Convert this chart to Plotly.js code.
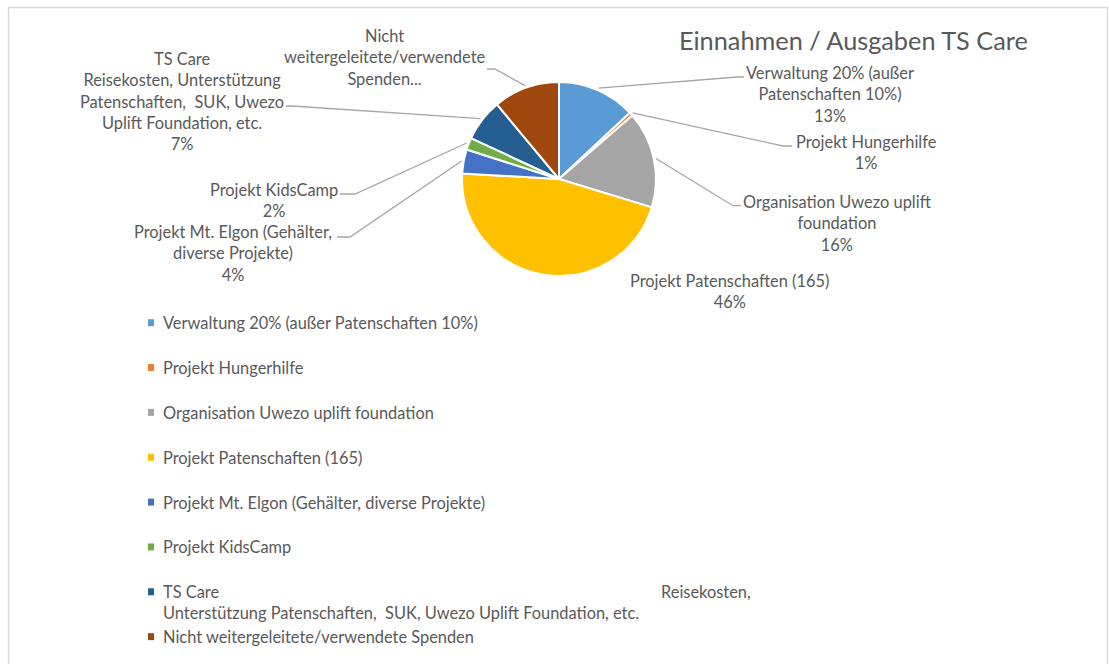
<!DOCTYPE html>
<html>
<head>
<meta charset="utf-8">
<script src="https://cdn.plot.ly/plotly-3.0.1.min.js"></script>
<style>html,body{margin:0;padding:0;background:#fff;}#chart{width:1109px;height:664px;}</style>
</head>
<body>
<div id="chart"></div>
<script>
// ---------------- data ----------------
const categories = [
  "Verwaltung 20% (außer Patenschaften 10%)",
  "Projekt Hungerhilfe",
  "Organisation Uwezo uplift foundation",
  "Projekt Patenschaften (165)",
  "Projekt Mt. Elgon (Gehälter, diverse Projekte)",
  "Projekt KidsCamp",
  "TS Care Reisekosten, Unterstützung Patenschaften,  SUK, Uwezo Uplift Foundation, etc.",
  "Nicht weitergeleitete/verwendete Spenden"
];
const values = [13, 0.6, 16, 46, 4, 2, 7, 11];
const colors = ["#5B9BD5", "#ED7D31", "#A5A5A5", "#FFC000", "#4472C4", "#70AD47", "#255E91", "#9E480E"];
// data-label texts (wrapped as in the chart)
const dataLabelLines = [
  ["Verwaltung 20% (außer", "Patenschaften 10%)"],
  ["Projekt Hungerhilfe"],
  ["Organisation Uwezo uplift", "foundation"],
  ["Projekt Patenschaften (165)"],
  ["Projekt Mt. Elgon (Gehälter,", "diverse Projekte)"],
  ["Projekt KidsCamp"],
  ["TS Care", "Reisekosten, Unterstützung", "Patenschaften,\u00a0 SUK, Uwezo", "Uplift Foundation, etc."],
  ["Nicht", "weitergeleitete/verwendete", "Spenden..."]
];
const showPercent = [true, true, true, true, true, true, true, false];
const legendLines = [
  ["Verwaltung 20% (außer Patenschaften 10%)"],
  ["Projekt Hungerhilfe"],
  ["Organisation Uwezo uplift foundation"],
  ["Projekt Patenschaften (165)"],
  ["Projekt Mt. Elgon (Gehälter, diverse Projekte)"],
  ["Projekt KidsCamp"],
  ["TS Care", "Unterstützung Patenschaften,\u00a0 SUK, Uwezo Uplift Foundation, etc."],
  ["Nicht weitergeleitete/verwendete Spenden"]
];
const legendExtraText = {6: "Reisekosten,"};
const chartTitle = "Einnahmen / Ausgaben TS Care";

// ---------------- layout helpers (pixels) ----------------
const W = 1109, H = 664;
const px = x => x / W;
const py = y => 1 - y / H;
const CX = 559, CY = 179, R = 97;
const FONT = "Lato, 'Open Sans', 'Liberation Sans', sans-serif";
const TXT = "#595959";
const LABEL_SIZE = 16.4;
// label block centres [x, yCentre] in px
const labelPos = [
  [830, 93.7], [866, 151.7], [837.5, 223.3], [729.5, 290.5],
  [233.3, 253.5], [273.7, 199.5], [182, 100.5], [384, 57]
];
// leader elbows and ends in px (null = no leader)
const leaderPts = [
  [[737, 77], [744, 77]],
  [[783, 146], [792, 146]],
  [[733, 205.7], [741, 205.7]],
  null,
  [[350, 237], [337, 237]],
  [[355, 194], [340, 194]],
  [[292, 106], [286, 106]],
  [[495, 69], [487, 69]]
];
const legendX = 161, legendY0 = 322.7, legendDY = 44.85, legendLineH = 21;

// ---------------- build ----------------
const total = values.reduce((a, b) => a + b, 0);
const annotations = [];
const shapes = [];

// chart frame
shapes.push({type: "rect", xref: "paper", yref: "paper",
  x0: px(8.5), x1: px(1107.5), y0: py(7.5), y1: py(680),
  line: {color: "#D9D9D9", width: 1.5}, fillcolor: "rgba(0,0,0,0)", layer: "below"});

// title
annotations.push({xref: "paper", yref: "paper", x: px(853), y: py(40), xanchor: "center", yanchor: "middle",
  text: chartTitle, showarrow: false, font: {family: FONT, size: 25.3, color: TXT}});

// data labels + leaders
let cum = 0;
values.forEach((v, i) => {
  const mid = (cum + v / 2) / total * 2 * Math.PI;
  cum += v;
  const pct = Math.round(v / total * 100) + "%";
  const lines = dataLabelLines[i].slice();
  if (showPercent[i]) lines.push(pct);
  annotations.push({xref: "paper", yref: "paper", x: px(labelPos[i][0]), y: py(labelPos[i][1]),
    xanchor: "center", yanchor: "middle", align: "center", showarrow: false,
    text: lines.join("<br>"), font: {family: FONT, size: LABEL_SIZE, color: TXT}});
  if (leaderPts[i]) {
    const sx = CX + (R + 2) * Math.sin(mid), sy = CY - (R + 2) * Math.cos(mid);
    const [e, t] = leaderPts[i];
    shapes.push({type: "path", xref: "paper", yref: "paper",
      path: `M ${px(sx)} ${py(sy)} L ${px(e[0])} ${py(e[1])} L ${px(t[0])} ${py(t[1])}`,
      line: {color: "#A6A6A6", width: 1.3}});
  }
});

// legend
legendLines.forEach((ls, i) => {
  const y = legendY0 + i * legendDY;
  shapes.push({type: "rect", xref: "paper", yref: "paper",
    x0: px(148), x1: px(154), y0: py(y - 3.5), y1: py(y + 3.5),
    fillcolor: colors[i], line: {width: 0}});
  ls.forEach((t, k) => {
    annotations.push({xref: "paper", yref: "paper", x: px(legendX), y: py(y + k * legendLineH),
      xanchor: "left", yanchor: "middle", showarrow: false, text: t,
      font: {family: FONT, size: LABEL_SIZE, color: TXT}});
  });
  if (legendExtraText[i]) {
    annotations.push({xref: "paper", yref: "paper", x: px(659), y: py(y),
      xanchor: "left", yanchor: "middle", showarrow: false, text: legendExtraText[i],
      font: {family: FONT, size: LABEL_SIZE, color: TXT}});
  }
});

const trace = {
  type: "pie",
  labels: categories,
  values: values,
  sort: false,
  direction: "clockwise",
  rotation: 0,
  textinfo: "none",
  hoverinfo: "label+percent",
  marker: {colors: colors, line: {color: "#FFFFFF", width: 2}},
  domain: {x: [px(CX - R), px(CX + R)], y: [py(CY + R), py(CY - R)]},
  showlegend: false
};

const layout = {
  width: W, height: H,
  margin: {l: 0, r: 0, t: 0, b: 0},
  paper_bgcolor: "#FFFFFF",
  showlegend: false,
  annotations: annotations,
  shapes: shapes,
  font: {family: FONT, color: TXT}
};

Plotly.newPlot("chart", [trace], layout, {displayModeBar: false, staticPlot: true});
</script>
</body>
</html>
